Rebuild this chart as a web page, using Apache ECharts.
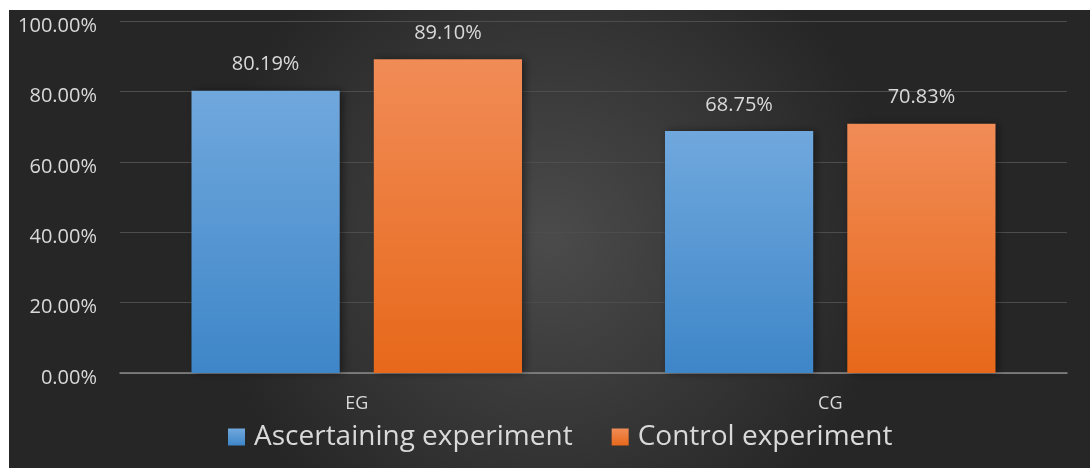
<!DOCTYPE html>
<html>
<head>
<meta charset="utf-8">
<script src="https://cdn.jsdelivr.net/npm/echarts@6/dist/echarts.min.js"></script>
<style>
  html, body { margin: 0; padding: 0; background: #fff; }
  #chart { position: absolute; left: 9px; top: 10px; width: 1081px; height: 458px; }
</style>
</head>
<body>
<div id="chart"></div>
<script>
// data
const categories = ['EG', 'CG'];
const seriesNames = ['Ascertaining experiment', 'Control experiment'];
const ascertaining = [80.19, 68.75];
const control = [89.10, 70.83];

const chart = echarts.init(document.getElementById('chart'));

const txt = '#d9d9d9';
const font = 'Open Sans';

const grad = (top, bottom) => new echarts.graphic.LinearGradient(0, 0, 0, 1, [
    { offset: 0, color: top },
    { offset: 1, color: bottom }
]);

const barStyle = (top, bottom) => ({
    color: grad(top, bottom),
    shadowColor: 'rgba(0,0,0,0.45)',
    shadowBlur: 8,
    shadowOffsetX: 3,
    shadowOffsetY: 0
});

const valueLabel = {
    show: true,
    position: 'top',
    distance: 16,
    color: txt,
    fontSize: 20,
    formatter: p => p.value.toFixed(2) + '%'
};

const option = {
    backgroundColor: new echarts.graphic.RadialGradient(0.5, 0.5, 0.75, [
        { offset: 0, color: '#4b4b4b' },
        { offset: 1, color: '#262626' }
    ]),
    textStyle: { fontFamily: font },
    grid: { left: 111, right: 23, top: 11, bottom: 95, containLabel: false },
    legend: {
        data: seriesNames,
        top: 408,
        left: 214,
        itemWidth: 17,
        itemHeight: 17,
        itemGap: 39,
        icon: 'rect',
        textStyle: { color: txt, fontSize: 28, fontFamily: font, padding: [0, 0, 0, 4] }
    },
    xAxis: {
        type: 'category',
        data: categories,
        axisLine: { lineStyle: { color: '#8a8a8a', width: 1.5 } },
        axisTick: { show: false },
        axisLabel: { color: txt, fontSize: 18, margin: 22 }
    },
    yAxis: {
        type: 'value',
        min: 0,
        max: 100,
        interval: 20,
        axisLine: { show: false },
        axisTick: { show: false },
        splitLine: { lineStyle: { color: '#4d4d4d', width: 1.2 } },
        axisLabel: {
            color: txt,
            fontSize: 20,
            margin: 23,
            formatter: v => '{v|' + v.toFixed(2) + '%}',
            rich: {
                v: { color: txt, fontSize: 20, fontFamily: font, padding: [10, 0, 0, 0] }
            }
        }
    },
    series: [
        {
            name: seriesNames[0],
            type: 'bar',
            data: ascertaining,
            barWidth: '31.3%',
            barGap: '23%',
            itemStyle: barStyle('#70a8dd', '#3e86c8'),
            label: valueLabel
        },
        {
            name: seriesNames[1],
            type: 'bar',
            data: control,
            barWidth: '31.3%',
            itemStyle: barStyle('#f18c57', '#e7681a'),
            label: valueLabel
        }
    ]
};

chart.setOption(option);
</script>
</body>
</html>
